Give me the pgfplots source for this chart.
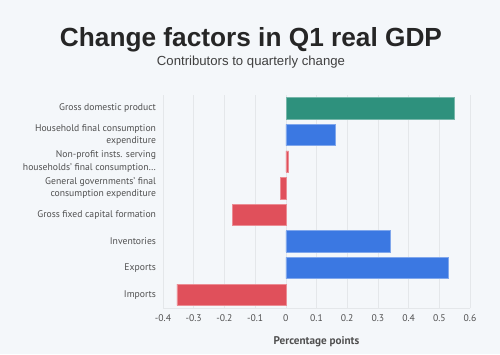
\documentclass[border=0pt]{standalone}
\usepackage{pgfplots}
\pgfplotsset{compat=1.18}
\usepackage{fontspec}
\setmainfont{PT Sans}
\newfontfamily\titlefont{Liberation Sans}
\definecolor{bg}{HTML}{F4F7FA}
\definecolor{cgreen}{HTML}{2E917D}
\definecolor{cblue}{HTML}{3B78E2}
\definecolor{cred}{HTML}{E0505B}
\definecolor{tickgray}{HTML}{505050}
\definecolor{gridgray}{HTML}{E4E7EA}
\begin{document}
\begin{tikzpicture}[x=1bp,y=1bp]
\fill[bg] (0,0) rectangle (500,354);
\node[anchor=base, text=black!85] at (251,308) {\resizebox{382bp}{!}{\titlefont\bfseries Change factors in Q1 real GDP}};
\node[anchor=base, text=black!75] at (251,288.5) {\resizebox{188bp}{!}{\titlefont Contributors to quarterly change}};
\begin{axis}[
  at={(163bp,46bp)}, anchor=south west,
  scale only axis, width=307bp, height=213bp,
  xmin=-0.4, xmax=0.6, ymin=-0.5, ymax=7.5,
  xtick={-0.4,-0.3,...,0.61},
  ytick={0,1,2,3,4,5,6,7},
  yticklabels={Imports, Exports, Inventories, Gross fixed capital formation,
    {General governments' final\\consumption expenditure},
    {Non-profit insts. serving\\households' final consumption…},
    {Household final consumption\\expenditure},
    Gross domestic product},
  yticklabel style={align=right, font=\fontsize{9.7}{12.2}\selectfont, text=tickgray},
  xticklabel style={font=\fontsize{9.7}{11}\selectfont, text=tickgray},
  /pgf/number format/assume math mode=true,
  /pgf/number format/fixed,
  xticklabel shift=3bp,
  yticklabel shift=3.5bp,
  major tick length=0pt,
  xmajorgrids, major grid style={gridgray, line width=0.6bp},
  axis line style={draw=none},
  xbar, bar width=0.8, bar shift=0pt,
  xlabel={\bfseries Percentage points},
  xlabel style={at={(rel axis cs:0.5,0)}, anchor=center, yshift=-33.7bp, font=\fontsize{11.2}{12}\selectfont, text=tickgray},
  clip=false,
]
\draw[gridgray, line width=0.8bp] (rel axis cs:0,0) -- (rel axis cs:1,0);
\addplot[fill=cgreen, draw=cgreen!65!white, line width=0.6bp] coordinates {(0.55,7)};
\addplot[fill=cblue, draw=cblue!65!white, line width=0.6bp] coordinates {(0.16,6) (0.34,2) (0.53,1)};
\addplot[fill=cred, draw=cred!65!white, line width=0.6bp] coordinates {(0.009,5) (-0.018,4) (-0.173,3) (-0.355,0)};
\end{axis}
\end{tikzpicture}
\end{document}
